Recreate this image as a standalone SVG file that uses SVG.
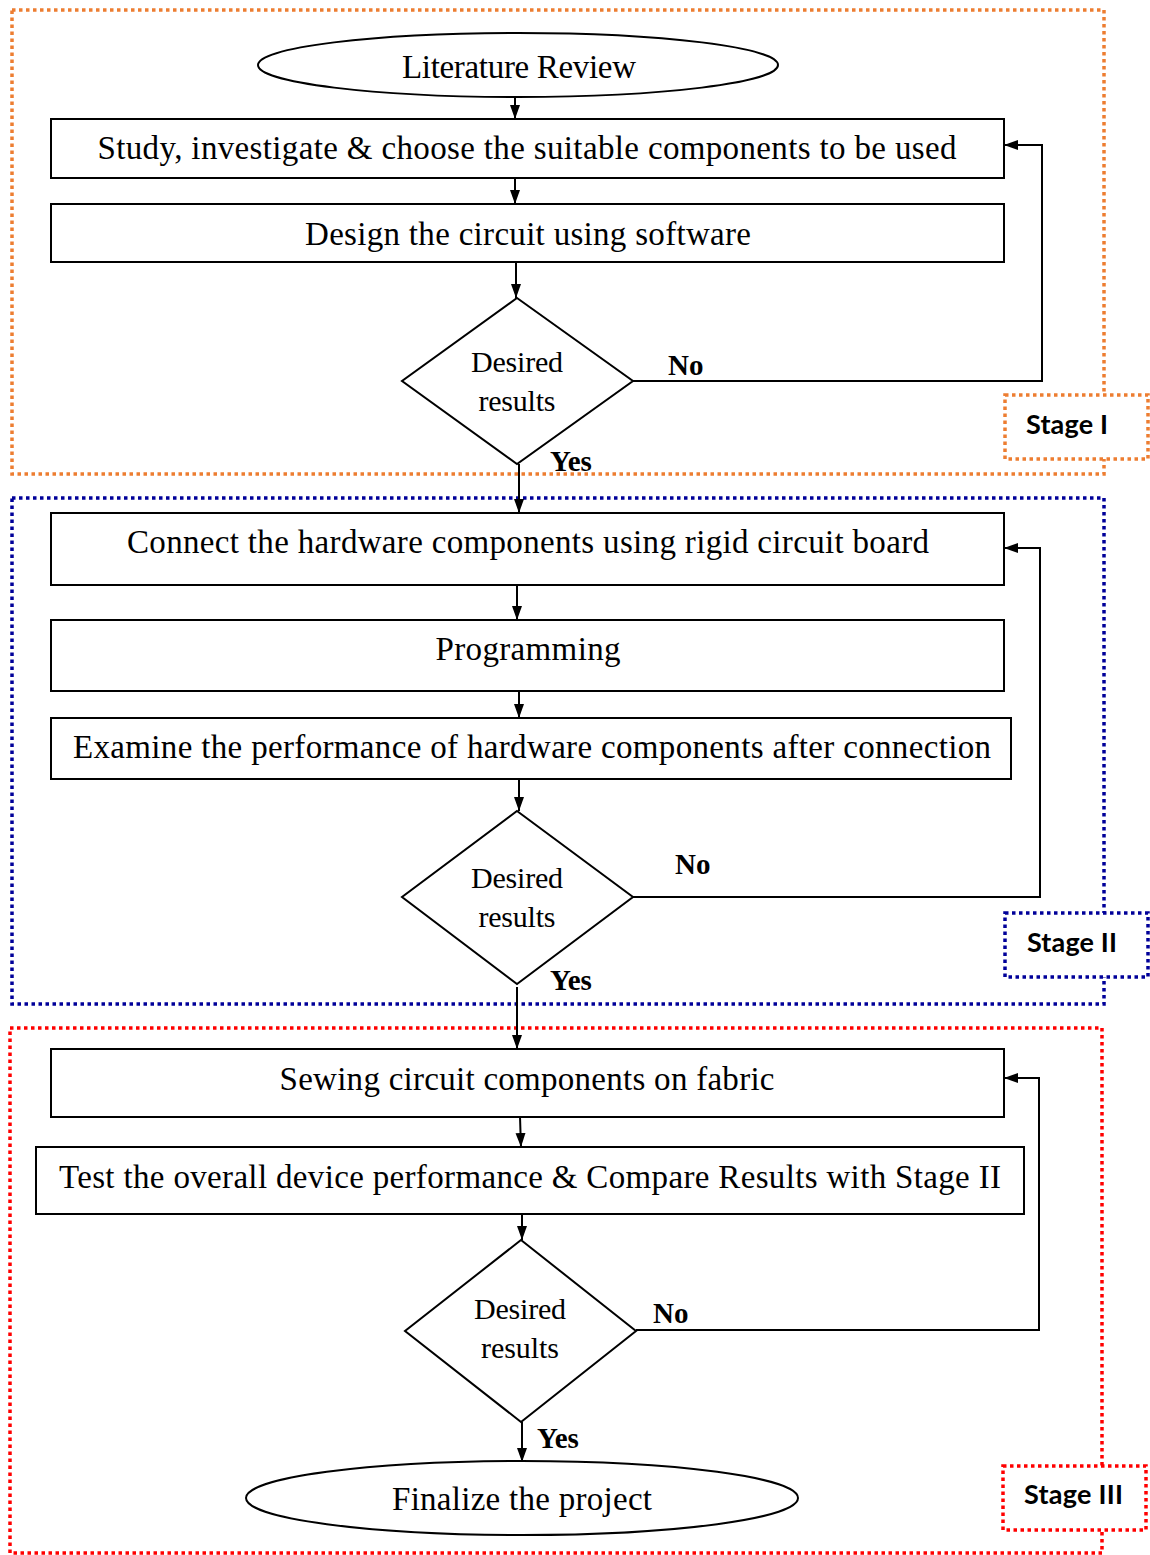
<svg xmlns="http://www.w3.org/2000/svg" width="1150" height="1555" viewBox="0 0 1150 1555">
<defs>
<marker id="ah" viewBox="0 0 14 10" refX="14" refY="5" markerWidth="14" markerHeight="11" markerUnits="userSpaceOnUse" orient="auto">
<path d="M0,0 L14,5 L0,10 Z" fill="#000"/>
</marker>
</defs>
<style>
.n{fill:#fff;stroke:#000;stroke-width:2}
.t{font-family:"Liberation Serif","Times New Roman",serif;font-size:33px;fill:#000;text-anchor:middle}
.d{font-family:"Liberation Serif","Times New Roman",serif;font-size:30px;fill:#000;text-anchor:middle}
.b{font-family:"Liberation Serif","Times New Roman",serif;font-size:29px;font-weight:bold;fill:#000}
.s{font-family:Lato,"Liberation Sans",sans-serif;font-size:27px;font-weight:bold;fill:#000}
.c{fill:none;stroke:#000;stroke-width:2}
.o1{fill:none;stroke:#ED7D31;stroke-width:3.5;stroke-dasharray:3.5 3.5}
.o2{fill:none;stroke:#000099;stroke-width:3.5;stroke-dasharray:3.5 3.5}
.o3{fill:none;stroke:#FF0000;stroke-width:3.5;stroke-dasharray:3.5 3.5}
.l1{fill:#fff;stroke:#ED7D31;stroke-width:3.5;stroke-dasharray:3.5 3.5}
.l2{fill:#fff;stroke:#000099;stroke-width:3.5;stroke-dasharray:3.5 3.5}
.l3{fill:#fff;stroke:#FF0000;stroke-width:3.5;stroke-dasharray:3.5 3.5}
</style>
<rect width="1150" height="1555" fill="#fff"/>
<g id="stages">
<rect class="o1" x="12" y="10" width="1092" height="464"/>
<rect class="o2" x="12" y="498" width="1092" height="506"/>
<rect class="o3" x="10" y="1028" width="1092" height="525"/>
</g>
<g id="connectors">
<line class="c" x1="515" y1="97" x2="515" y2="119" marker-end="url(#ah)"/>
<line class="c" x1="515" y1="178" x2="515" y2="204" marker-end="url(#ah)"/>
<line class="c" x1="516" y1="262" x2="516" y2="298" marker-end="url(#ah)"/>
<polyline class="c" points="633,381 1042,381 1042,145 1004,145" marker-end="url(#ah)"/>
<line class="c" x1="519" y1="464" x2="519" y2="513" marker-end="url(#ah)"/>
<line class="c" x1="517" y1="585" x2="517" y2="620" marker-end="url(#ah)"/>
<line class="c" x1="519" y1="691" x2="519" y2="718" marker-end="url(#ah)"/>
<line class="c" x1="519" y1="779" x2="519" y2="811" marker-end="url(#ah)"/>
<polyline class="c" points="633,897 1040,897 1040,548 1004,548" marker-end="url(#ah)"/>
<line class="c" x1="517" y1="987" x2="517" y2="1049" marker-end="url(#ah)"/>
<line class="c" x1="520" y1="1117" x2="521" y2="1147" marker-end="url(#ah)"/>
<line class="c" x1="522" y1="1214" x2="522" y2="1240" marker-end="url(#ah)"/>
<polyline class="c" points="636,1330 1039,1330 1039,1078 1004,1078" marker-end="url(#ah)"/>
<line class="c" x1="522" y1="1422" x2="522" y2="1462" marker-end="url(#ah)"/>
</g>
<g id="n-literature">
<ellipse class="n" cx="518" cy="65" rx="260" ry="32"/>
<text class="t" x="519" y="78" textLength="234">Literature Review</text>
</g>
<g id="n-study">
<rect class="n" x="51" y="119" width="953" height="59"/>
<text class="t" x="527" y="159" textLength="859">Study, investigate &amp; choose the suitable components to be used</text>
</g>
<g id="n-design">
<rect class="n" x="51" y="204" width="953" height="58"/>
<text class="t" x="528" y="245" textLength="446">Design the circuit using software</text>
</g>
<g id="n-dec1">
<polygon class="n" points="517,298 633,381 517,464 402,381"/>
<text class="d" x="517" y="372" textLength="92">Desired</text>
<text class="d" x="517" y="411" textLength="77">results</text>
</g>
<g id="n-connect">
<rect class="n" x="51" y="513" width="953" height="72"/>
<text class="t" x="528" y="553" textLength="802">Connect the hardware components using rigid circuit board</text>
</g>
<g id="n-programming">
<rect class="n" x="51" y="620" width="953" height="71"/>
<text class="t" x="528" y="660" textLength="185">Programming</text>
</g>
<g id="n-examine">
<rect class="n" x="51" y="718" width="960" height="61"/>
<text class="t" x="532" y="758" textLength="918">Examine the performance of hardware components after connection</text>
</g>
<g id="n-dec2">
<polygon class="n" points="517,811 633,897 517,984 402,897"/>
<text class="d" x="517" y="888" textLength="92">Desired</text>
<text class="d" x="517" y="927" textLength="77">results</text>
</g>
<g id="n-sewing">
<rect class="n" x="51" y="1049" width="953" height="68"/>
<text class="t" x="527" y="1090" textLength="495">Sewing circuit components on fabric</text>
</g>
<g id="n-test">
<rect class="n" x="36" y="1147" width="988" height="67"/>
<text class="t" x="530" y="1188" textLength="942">Test the overall device performance &amp; Compare Results with Stage II</text>
</g>
<g id="n-dec3">
<polygon class="n" points="521,1240 636,1331 521,1422 405,1331"/>
<text class="d" x="520" y="1319" textLength="92">Desired</text>
<text class="d" x="520" y="1358" textLength="78">results</text>
</g>
<g id="n-finalize">
<ellipse class="n" cx="522" cy="1498" rx="276" ry="37"/>
<text class="t" x="522" y="1510" textLength="260">Finalize the project</text>
</g>
<g id="labels">
<text class="b" x="668" y="375">No</text>
<text class="b" x="550" y="471">Yes</text>
<text class="b" x="675" y="874">No</text>
<text class="b" x="550" y="990">Yes</text>
<text class="b" x="653" y="1323">No</text>
<text class="b" x="537" y="1448">Yes</text>
</g>
<g id="stage1">
<rect class="l1" x="1005" y="395" width="143" height="64"/>
<text class="s" x="1026" y="434" textLength="82">Stage I</text>
</g>
<g id="stage2">
<rect class="l2" x="1005" y="913" width="143" height="64"/>
<text class="s" x="1027" y="952" textLength="90">Stage II</text>
</g>
<g id="stage3">
<rect class="l3" x="1003" y="1466" width="143" height="64"/>
<text class="s" x="1024" y="1504" textLength="99">Stage III</text>
</g>
</svg>
